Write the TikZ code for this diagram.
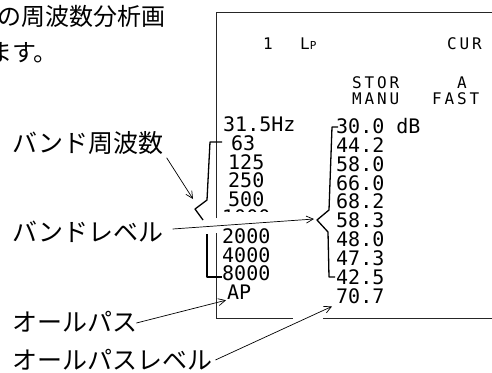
\documentclass[tikz,border=0pt]{standalone}
\usepackage{fontspec}
\newfontfamily\jpfont{Noto Sans CJK JP}
\newfontfamily\lcdfont{DejaVu Sans Mono}
\usetikzlibrary{arrows.meta}
\begin{document}
\begin{tikzpicture}[x=1pt,y=-1pt,
  jptext/.style={font=\jpfont\fontsize{25}{25}\selectfont, inner sep=0pt, anchor=west},
  jptop/.style={font=\jpfont\fontsize{24}{24}\selectfont, inner sep=0pt, anchor=west},
  lcd/.style={font=\lcdfont\fontsize{20}{20}\selectfont, inner sep=0pt, anchor=base west},
  lcdhead/.style={font=\lcdfont\fontsize{16}{16}\selectfont\addfontfeature{LetterSpace=18}, inner sep=0pt, anchor=base west},
  frame/.style={line width=0.9pt, black!85},
  brk/.style={line width=1.3pt, line join=round},
  arr/.style={line width=0.7pt, -{Straight Barb[length=7pt,width=7pt]}},
]
\useasboundingbox (0,0) rectangle (492,372);
\clip (0,0) rectangle (492,372);

% top-left running text (cropped at the left edge, as in the reference)
\node[jptop] (t1) at (-3,16) {の周波数分析画};
\node[jptop] (t2) at (-12,53) {ます。};

% screen frame
\draw[frame] (216,218) -- (216,12) -- (492,12);
\draw[frame] (216,233) -- (216,318) -- (293,318);
\draw[frame] (323,318) -- (492,318);

% header
\node[lcdhead] (h1) at (263,49) {1};
\node[lcdhead] (hlp) at (300,49) {L{\fontsize{11}{11}\selectfont P}};
\node[lcdhead] (hcur) at (447,49) {CUR};
\node[lcdhead] (hstor) at (352,88) {STOR};
\node[lcdhead] (hmanu) at (352,104) {MANU};
\node[lcdhead] (ha) at (457,88) {A};
\node[lcdhead] (hfast) at (432,104) {FAST};

% frequency column
\node[lcd] (f0) at (223,131.8) {31.5Hz};
\node[lcd] (f1) at (231,150.4) {63};
\node[lcd] (f2) at (228,169.0) {125};
\node[lcd] (f3) at (228,187.6) {250};
\node[lcd] (f4) at (228,206.2) {500};
\begin{scope}
  \clip (218,200) rectangle (290,211.6);
  \node[lcd] (f5) at (222,224.8) {1000};
\end{scope}
\node[lcd] (f6) at (222,243.4) {2000};
\node[lcd] (f7) at (222,262.0) {4000};
\node[lcd] (f8) at (222,280.6) {8000};
\node[lcd] (f9) at (227,299.2) {AP};

% level column
\node[lcd] (l0) at (336,133.3) {30.0 dB};
\node[lcd] (l1) at (336,152.2) {44.2};
\node[lcd] (l2) at (336,171.1) {58.0};
\node[lcd] (l3) at (336,190.0) {66.0};
\node[lcd] (l4) at (336,208.9) {68.2};
\node[lcd] (l5) at (336,227.8) {58.3};
\node[lcd] (l6) at (336,246.7) {48.0};
\node[lcd] (l7) at (336,265.6) {47.3};
\node[lcd] (l8) at (336,284.5) {42.5};
\node[lcd] (l9) at (336,303.4) {70.7};

% braces
\draw[brk] (222,142) -- (210,142) -- (207,200) -- (195,209) -- (203,220);
\draw[brk] (207,234) -- (207,277) -- (222,277);
\coordinate (ftip) at (193,199);
\draw[brk] (338,127) -- (332,127) -- (329,210) -- (317,220) -- (328,232) -- (329,277) -- (335,277);
\coordinate (ltip) at (314,219);

% labels
\node[jptext] (bf) at (12,143) {バンド周波数};
\node[jptext] (bl) at (12,232) {バンドレベル};
\node[jptext] (ap) at (12,322) {オールパス};
\node[jptext] (apl) at (12,360) {オールパスレベル};

% arrows
\draw[arr] ([shift={(3,3)}]bf.south east) -- (ftip);
\draw[arr] ([shift={(9,-3)}]bl.east) -- (ltip);
\draw[arr] ([shift={(-1,1)}]ap.east) -- ([shift={(-1,1)}]f9.base west);
\draw[arr] ([shift={(3,0)}]apl.east) -- ([shift={(-4,3)}]l9.base west);
\end{tikzpicture}
\end{document}
